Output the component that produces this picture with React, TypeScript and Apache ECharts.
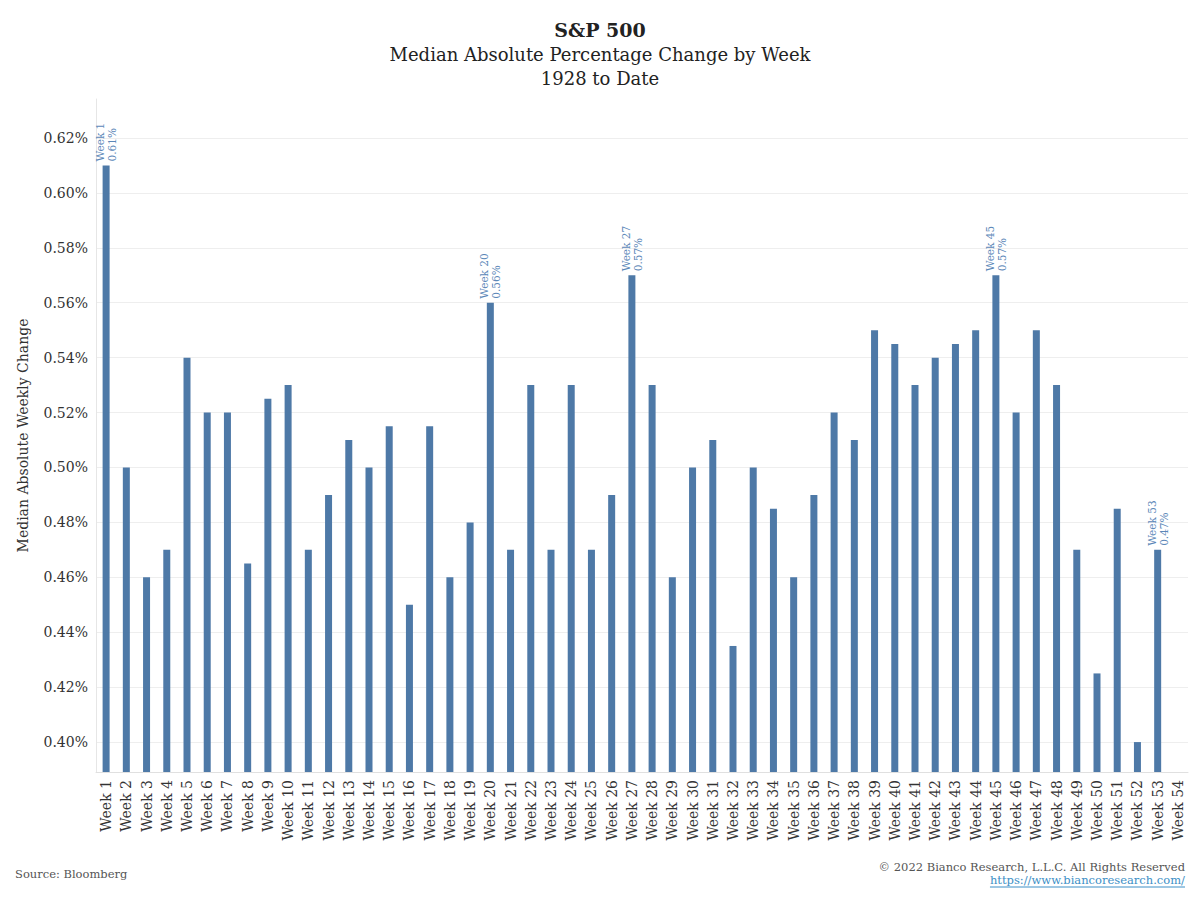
import React, { useEffect, useRef } from 'react';
import * as echarts from 'echarts';

const weeks = Array.from({ length: 54 }, (_, i) => `Week ${i + 1}`);

// median absolute weekly change, in percent (week 54 has no value)
const medianChange: (number | null)[] = [
  0.61, 0.5, 0.46, 0.47, 0.54, 0.52, 0.52, 0.465, 0.525, 0.53,
  0.47, 0.49, 0.51, 0.5, 0.515, 0.45, 0.515, 0.46, 0.48, 0.56,
  0.47, 0.53, 0.47, 0.53, 0.47, 0.49, 0.57, 0.53, 0.46, 0.5,
  0.51, 0.435, 0.5, 0.485, 0.46, 0.49, 0.52, 0.51, 0.55, 0.545,
  0.53, 0.54, 0.545, 0.55, 0.57, 0.52, 0.55, 0.53, 0.47, 0.425,
  0.485, 0.4, 0.47, null,
];

const labeledWeeks = [1, 20, 27, 45, 53];

const yTicks = [0.4, 0.42, 0.44, 0.46, 0.48, 0.5, 0.52, 0.54, 0.56, 0.58, 0.6, 0.62];

const FONT = '"DejaVu Serif", serif';
const BLUE = '#4e79a7';
const LINK = 'https://www.biancoresearch.com/';

const App: React.FC = () => {
  const chartRef = useRef<HTMLDivElement>(null);

  useEffect(() => {
    if (!chartRef.current) return;
    const chart = echarts.init(chartRef.current, undefined, { renderer: 'svg' });

    // width of the link text, for its underline
    const ctx = document.createElement('canvas').getContext('2d');
    let linkW = 190;
    if (ctx) {
      ctx.font = `11.5px "DejaVu Serif"`;
      linkW = ctx.measureText(LINK).width;
    }

    const data = medianChange.map((v, i) => ({
      value: v,
      label: labeledWeeks.includes(i + 1) ? { show: true } : { show: false },
    }));

    chart.setOption({
      animation: false,
      backgroundColor: '#fff',
      textStyle: { fontFamily: FONT },
      grid: { left: 96, right: 12, top: 99, bottom: 128 },
      xAxis: {
        type: 'category',
        data: weeks,
        axisLine: { lineStyle: { color: '#e0e0e0' } },
        axisTick: { lineStyle: { color: '#e0e0e0' }, length: 6 },
        axisLabel: { rotate: 90, fontSize: 14, color: '#333', fontFamily: FONT, margin: 8 },
      },
      yAxis: {
        type: 'value',
        min: 0.3891,
        max: 0.6342,
        name: 'Median Absolute Weekly Change',
        nameLocation: 'middle',
        nameGap: 66,
        nameTextStyle: { fontFamily: FONT, fontSize: 14, color: '#333' },
        axisLine: { show: true, lineStyle: { color: '#e6e6e6' } },
        axisTick: { show: false, customValues: yTicks },
        axisLabel: {
          customValues: yTicks,
          fontSize: 14,
          color: '#333',
          fontFamily: FONT,
          margin: 8,
          formatter: (v: number) => `${v.toFixed(2)}%`,
        },
        splitLine: { lineStyle: { color: '#eeeeee' } },
      },
      series: [
        {
          type: 'bar',
          data,
          barWidth: 7,
          itemStyle: { color: BLUE },
          label: {
            position: 'top',
            rotate: 90,
            align: 'left',
            verticalAlign: 'middle',
            distance: 4,
            fontSize: 10.5,
            lineHeight: 12,
            color: '#5b87b8',
            fontFamily: FONT,
            formatter: (p: any) => `Week ${p.dataIndex + 1}\n${Number(p.value).toFixed(2)}%`,
          },
        },
      ],
      graphic: [
        {
          type: 'text',
          x: 600,
          y: 30,
          style: {
            text: 'S&P 500',
            font: `bold 19px ${FONT}`,
            fill: '#222',
            align: 'center',
            verticalAlign: 'middle',
          },
        },
        {
          type: 'text',
          x: 600,
          y: 54,
          style: {
            text: 'Median Absolute Percentage Change by Week',
            font: `18px ${FONT}`,
            fill: '#222',
            align: 'center',
            verticalAlign: 'middle',
          },
        },
        {
          type: 'text',
          x: 600,
          y: 78,
          style: {
            text: '1928 to Date',
            font: `18px ${FONT}`,
            fill: '#222',
            align: 'center',
            verticalAlign: 'middle',
          },
        },
        {
          type: 'text',
          x: 15,
          y: 874,
          style: {
            text: 'Source: Bloomberg',
            font: `11.5px ${FONT}`,
            fill: '#555',
            verticalAlign: 'middle',
          },
        },
        {
          type: 'text',
          x: 1185,
          y: 867,
          style: {
            text: '© 2022 Bianco Research, L.L.C. All Rights Reserved',
            font: `11.5px ${FONT}`,
            fill: '#555',
            align: 'right',
            verticalAlign: 'middle',
          },
        },
        {
          type: 'text',
          x: 1185,
          y: 880,
          style: {
            text: LINK,
            font: `11.5px ${FONT}`,
            fill: '#3d8fc6',
            align: 'right',
            verticalAlign: 'middle',
          },
        },
        {
          type: 'line',
          shape: { x1: 1185 - linkW, y1: 887, x2: 1185, y2: 887 },
          style: { stroke: '#3d8fc6', lineWidth: 1 },
        },
      ],
    });

    return () => {
      chart.dispose();
    };
  }, []);

  return (
    <div
      ref={chartRef}
      style={{ position: 'absolute', left: 0, top: 0, width: 1200, height: 900 }}
    />
  );
};

export default App;
